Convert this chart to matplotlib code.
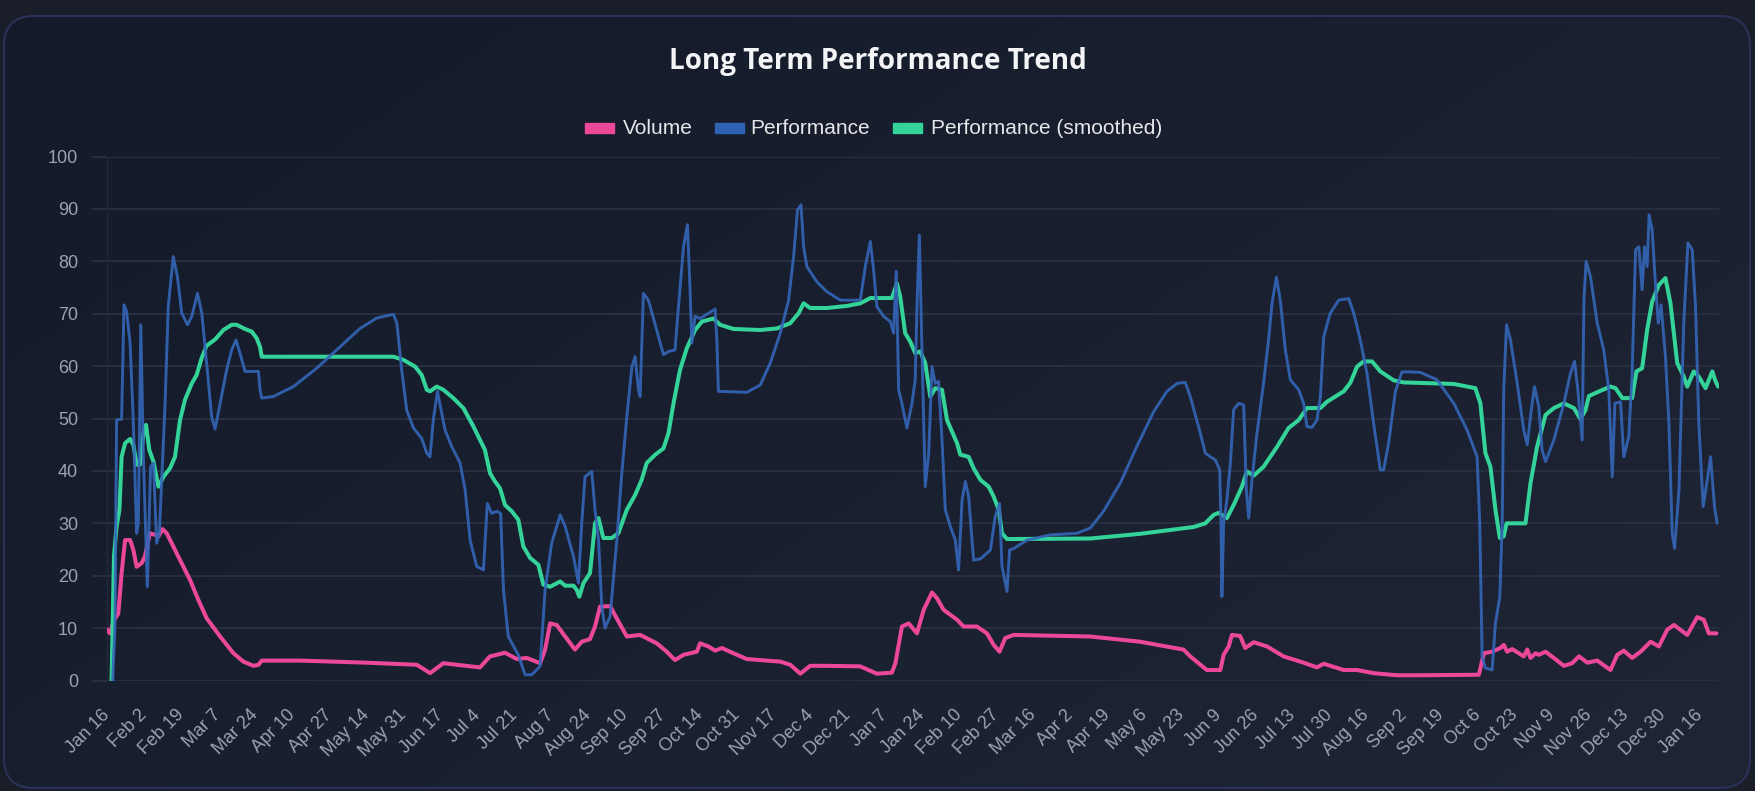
import numpy as np
import pandas as pd
import matplotlib
matplotlib.use('Agg')
import matplotlib.pyplot as plt
from matplotlib.patches import FancyBboxPatch, Rectangle

# dates are stored as day offsets from the first day of the series
start = pd.Timestamp('2024-01-16')

vol_days = [0, 1.4, 2.9, 5.2, 6.7, 8.3, 10.6, 12.1, 13.6, 15.9, 17.4, 19.7, 22.0, 23.6, 25.5, 27.4,
            29.7, 33.5, 38.1, 41.9, 45.7, 51.9, 58.0, 62.6, 67.2, 69.5, 71.0, 88.6, 119.2, 142.1, 146.0,
            148.2, 154.3, 171.1, 175.7, 178.8, 182.6, 188.0, 192.6, 198.7, 201.0, 203.3, 206.3, 210.2,
            214.7, 217.8, 221.6, 223.9, 226.2, 230.8, 234.6, 238.5, 244.6, 252.2, 256.8, 260.6, 264.5,
            267.5, 270.6, 272.1, 275.9, 279.0, 282.1, 287.4, 293.5, 299.7, 308.9, 313.5, 318.1, 322.6,
            330.3, 345.6, 353.2, 360.1, 361.7, 364.7, 367.8, 371.6, 374.7, 378.5, 380.8, 383.8, 390.0,
            393.0, 399.1, 403.7, 406.8, 409.5, 412.1, 416.0, 451.1, 474.0, 493.9, 497.0, 504.6, 510.8,
            512.3, 514.6, 516.1, 519.9, 522.2, 526.1, 532.2, 539.8, 549.0, 555.1, 558.2, 567.4, 573.5,
            581.1, 591.8, 602.6, 629.4, 631.7, 635.5, 639.3, 640.8, 642.4, 644.7, 650.0, 651.6, 653.1,
            655.4, 656.9, 660.0, 663.8, 668.4, 672.2, 675.3, 677.6, 679.1, 683.7, 689.8, 692.9, 695.9,
            699.7, 703.6, 708.2, 712.0, 715.8, 718.9, 725.0, 729.6, 732.6, 734.9, 738.4]
vol_vals = [9.7, 9.0, 11.3, 12.8, 20.5, 26.8, 26.8, 24.9, 21.7, 22.4, 23.7, 28.1, 27.8, 27.5, 28.9, 28.1,
            26.2, 23.0, 19.2, 15.4, 11.9, 8.4, 5.2, 3.6, 2.8, 3.0, 3.8, 3.8, 3.4, 3.0, 2.0,
            1.4, 3.3, 2.5, 4.6, 4.9, 5.3, 4.1, 4.3, 3.3, 5.9, 10.9, 10.6, 8.4,
            5.9, 7.4, 7.9, 10.3, 14.1, 14.2, 11.3, 8.4, 8.7, 7.1, 5.5, 3.9, 4.9,
            5.2, 5.5, 7.1, 6.5, 5.7, 6.2, 5.2, 4.1, 3.9, 3.6, 3.0, 1.3, 2.8,
            2.8, 2.7, 1.3, 1.5, 3.3, 10.3, 10.9, 9.0, 13.5, 16.8, 15.7, 13.5, 11.6,
            10.3, 10.3, 9.0, 6.8, 5.5, 8.1, 8.7, 8.4, 7.4, 5.9, 4.6, 2.0, 2.0,
            4.9, 6.5, 8.7, 8.5, 6.2, 7.3, 6.5, 4.6, 3.4, 2.5, 3.2, 2.0, 2.0,
            1.4, 1.0, 1.0, 1.1, 5.2, 5.5, 6.2, 6.8, 5.5, 6.0, 4.6, 5.9, 4.3,
            5.2, 4.9, 5.5, 4.3, 2.8, 3.3, 4.6, 3.9, 3.4, 3.8, 2.0, 4.9, 5.7,
            4.3, 5.5, 7.4, 6.5, 9.7, 10.6, 8.7, 12.1, 11.6, 9.0, 9.0]

perf_days = [2.6, 3.7, 4.4, 6.7, 7.8, 9.0, 10.6, 12.1, 13.6, 14.4, 15.5, 16.7, 18.5, 20.0, 21.3, 22.8,
             24.0, 26.6, 28.1, 30.4, 32.3, 34.3, 36.9, 38.9, 41.5, 43.5, 45.7, 48.0, 49.6, 51.9, 54.9,
             57.2, 59.2, 61.0, 63.3, 69.5, 70.2, 71.0, 76.3, 85.5, 96.2, 106.9, 116.1, 123.8, 131.4,
             133.0, 135.2, 137.5, 140.6, 144.4, 146.7, 148.2, 149.7, 151.6, 155.1, 158.1, 162.0, 164.3,
             166.6, 169.6, 172.7, 174.5, 176.5, 178.8, 180.6, 181.9, 184.1, 188.7, 191.8, 194.9, 198.7,
             201.0, 204.0, 207.9, 210.2, 214.0, 216.3, 217.8, 219.3, 222.4, 223.9, 225.5, 227.0, 228.5,
             230.8, 233.9, 236.2, 238.5, 240.8, 242.3, 243.8, 244.6, 246.1, 248.4, 252.2, 255.3, 257.6,
             260.6, 262.2, 264.5, 266.3, 267.5, 268.3, 269.8, 272.1, 275.9, 279.0, 279.8, 280.5, 293.5,
             299.7, 304.3, 308.9, 312.7, 315.0, 316.8, 318.4, 319.6, 321.1, 325.7, 330.3, 336.4, 345.6,
             347.9, 350.2, 351.7, 353.2, 356.3, 359.4, 360.9, 362.1, 363.2, 364.7, 367.0, 369.3, 370.8,
             371.6, 372.7, 373.9, 375.4, 377.0, 378.5, 380.0, 381.5, 383.1, 384.6, 386.9, 389.2, 390.7,
             392.3, 393.8, 395.3, 397.6, 400.7, 405.3, 407.5, 409.5, 410.6, 412.9, 414.1, 416.0, 422.1,
             432.8, 445.0, 451.1, 457.2, 464.9, 472.5, 480.2, 486.3, 490.9, 494.7, 497.0, 501.6, 503.9,
             506.2, 508.5, 510.5, 511.1, 511.5, 512.3, 513.8, 515.4, 516.9, 519.2, 521.5, 522.7, 523.8,
             525.3, 527.6, 530.6, 532.9, 534.5, 536.5, 538.3, 540.6, 542.9, 546.7, 549.0, 550.5, 552.8,
             555.1, 556.7, 558.2, 561.2, 565.1, 569.7, 572.0, 575.0, 578.1, 581.1, 584.2, 585.7, 588.0,
             591.1, 594.1, 598.0, 602.6, 610.2, 617.9, 624.0, 628.6, 629.8, 630.9, 632.4, 635.5, 637.0,
             639.0, 640.1, 640.8, 642.1, 643.9, 647.0, 650.0, 651.6, 653.1, 654.9, 656.9, 658.4, 660.0,
             663.8, 668.4, 671.4, 673.3, 674.8, 676.8, 677.6, 678.6, 680.6, 683.7, 686.7, 689.0, 690.6,
             691.8, 694.4, 695.9, 698.2, 699.7, 701.3, 702.8, 704.3, 705.4, 706.6, 707.5, 708.9, 710.4,
             711.7, 713.0, 715.0, 716.6, 718.1, 719.2, 721.2, 723.4, 725.3, 727.3, 728.8, 730.3, 732.3,
             734.2, 735.7, 737.5, 738.7]
perf_vals = [0, 10.9, 49.7, 49.9, 71.7, 70.4, 64.4, 49.1, 28.1, 30.0, 67.9, 42.7, 17.9, 40.8, 41.5, 26.2,
             28.1, 52.3, 71.4, 80.9, 77.1, 70.1, 67.9, 69.5, 73.9, 70.1, 60.6, 50.4, 48.0, 52.9, 59.3,
             63.1, 65.0, 62.5, 59.0, 59.0, 55.5, 53.9, 54.2, 56.1, 59.6, 63.7, 67.2, 69.2, 69.9,
             68.2, 59.3, 51.6, 48.2, 46.2, 43.4, 42.7, 49.7, 55.2, 47.8, 44.7, 41.5, 36.4,
             26.8, 21.8, 21.1, 33.8, 31.9, 32.3, 31.9, 17.3, 8.4, 4.9, 1.1, 1.1, 2.7,
             17.3, 26.2, 31.6, 29.4, 23.7, 18.6, 30.0, 38.9, 39.9, 32.6, 26.8, 14.1, 10.0,
             12.2, 26.8, 39.6, 50.4, 59.9, 61.8, 55.5, 54.2, 73.9, 72.6, 66.9, 62.2, 62.8,
             63.1, 71.4, 82.8, 87.0, 74.6, 64.4, 69.5, 69.1, 70.1, 70.9, 65.0, 55.2, 55.0,
             56.4, 60.6, 66.3, 72.6, 80.9, 89.8, 90.8, 82.8, 79.0, 76.1, 74.2, 72.6, 72.6,
             79.0, 83.8, 78.4, 71.4, 69.5, 68.5, 66.3, 78.1, 55.5, 52.9, 48.2, 52.9, 57.4,
             71.4, 85.0, 63.1, 37.0, 43.4, 59.9, 56.7, 57.1, 45.9, 32.6, 29.4, 26.8, 21.1,
             34.5, 38.0, 35.1, 23.0, 23.2, 24.9, 31.3, 33.8, 21.8, 17.0, 24.9, 25.2, 26.8,
             27.8, 28.1, 29.1, 32.3, 37.7, 44.7, 51.3, 55.2, 56.7, 56.9, 54.2, 47.2, 43.4,
             42.7, 42.1, 40.2, 30.0, 16.0, 30.0, 34.5, 41.5, 51.7, 52.9, 52.6, 36.4, 31.0,
             38.3, 47.2, 56.7, 65.0, 72.0, 77.0, 72.6, 63.1, 57.4, 55.5, 52.9, 48.5, 48.3,
             49.7, 54.2, 65.6, 70.1, 72.6, 72.9, 70.1, 65.0, 58.6, 49.1, 40.2, 40.2, 45.3,
             55.2, 58.9, 58.9, 58.8, 57.4, 52.9, 47.8, 42.7, 30.0, 4.6, 2.4, 2.0, 10.9,
             16.0, 30.0, 55.5, 67.9, 65.0, 56.7, 47.8, 45.0, 50.4, 56.1, 52.3, 44.0, 41.8,
             45.9, 52.9, 58.6, 60.9, 55.5, 45.9, 72.6, 80.0, 77.1, 68.2, 63.1, 55.5, 38.9,
             52.9, 53.2, 42.7, 46.6, 58.6, 82.2, 82.8, 74.6, 82.8, 79.0, 88.9, 86.0, 75.8,
             68.2, 71.7, 61.8, 49.1, 28.1, 25.2, 36.4, 68.2, 83.5, 82.2, 71.4, 49.1, 33.2,
             38.3, 42.7, 33.2, 30.0]

smooth_days = [2.1, 3.2, 4.4, 5.7, 6.7, 8.3, 10.6, 12.1, 13.6, 15.1, 16.7, 17.9, 19.4, 21.3, 23.6, 25.9,
               28.9, 31.2, 33.5, 35.8, 38.9, 41.1, 43.4, 45.7, 49.6, 53.4, 57.2, 59.5, 63.3, 66.4, 68.7,
               70.2, 71.0, 73.3, 131.4, 136.0, 141.4, 144.4, 146.7, 148.2, 151.3, 154.3, 158.9, 163.5,
               168.1, 173.4, 175.7, 178.0, 180.3, 182.6, 185.7, 188.7, 191.0, 194.1, 197.9, 200.2, 203.3,
               207.9, 210.2, 214.0, 215.5, 216.7, 218.6, 221.6, 223.9, 225.5, 227.7, 231.6, 234.6, 238.5,
               242.3, 245.3, 247.6, 251.5, 255.3, 257.6, 259.9, 262.9, 266.0, 269.8, 272.9, 278.2, 281.3,
               287.4, 299.7, 307.3, 313.5, 317.3, 319.6, 322.6, 330.3, 339.5, 345.6, 350.2, 360.1, 362.4,
               363.9, 366.2, 368.5, 370.8, 373.1, 375.4, 377.7, 380.0, 383.1, 385.4, 387.7, 390.0, 391.5,
               395.3, 397.6, 400.7, 404.5, 406.8, 409.1, 410.6, 412.9, 451.1, 474.0, 498.5, 503.9, 507.7,
               510.0, 513.8, 516.9, 520.7, 523.0, 526.1, 530.6, 536.8, 542.1, 546.7, 550.5, 556.7, 559.7,
               567.4, 570.4, 573.5, 576.5, 580.4, 584.2, 590.3, 594.9, 602.6, 617.9, 627.8, 630.1, 632.4,
               634.7, 637.0, 639.0, 640.8, 642.1, 650.8, 653.1, 656.1, 660.0, 663.8, 668.4, 673.0, 676.0,
               678.3, 679.9, 685.2, 689.8, 692.1, 695.2, 699.7, 701.7, 704.3, 706.6, 708.9, 712.0, 715.0,
               717.3, 720.4, 723.4, 725.0, 728.0, 730.3, 733.4, 736.5, 738.0, 739.2]
smooth_vals = [0, 23.7, 29.4, 32.6, 42.7, 45.3, 46.1, 45.0, 41.2, 41.2, 47.2, 48.8, 44.0, 41.8, 37.0, 38.9,
               40.5, 42.7, 49.7, 53.6, 56.7, 58.3, 61.5, 63.9, 65.1, 66.9, 67.9, 67.9, 67.1, 66.6, 65.3,
               63.7, 61.8, 61.8, 61.8, 61.2, 59.9, 58.3, 55.5, 55.2, 56.1, 55.5, 53.9, 52.0,
               48.5, 44.0, 39.6, 38.0, 36.7, 33.5, 32.3, 30.7, 25.6, 23.4, 22.1, 18.3, 17.9,
               18.9, 18.1, 18.1, 17.3, 16.0, 18.6, 20.5, 30.0, 31.0, 27.2, 27.2, 28.1, 32.6,
               35.4, 38.3, 41.5, 43.1, 44.3, 47.2, 52.9, 59.3, 63.4, 66.9, 68.5, 69.1, 67.9,
               67.1, 66.9, 67.2, 68.2, 70.1, 72.0, 71.1, 71.1, 71.5, 72.0, 73.0, 73.0, 75.8,
               73.3, 66.3, 64.7, 62.5, 62.8, 60.6, 54.2, 55.8, 55.5, 49.7, 47.5, 45.3, 43.1,
               42.7, 40.5, 38.3, 37.0, 35.1, 32.6, 28.1, 27.0, 27.1, 28.0, 29.3, 30.0, 31.6,
               32.0, 31.0, 33.5, 37.0, 39.9, 39.1, 40.8, 44.6, 48.2, 49.7, 52.0, 52.0, 53.2,
               55.2, 56.8, 59.9, 60.9, 60.9, 59.0, 57.3, 56.9, 56.8, 56.6, 55.8, 52.9, 43.4,
               40.8, 32.6, 27.2, 27.5, 30.0, 30.0, 37.7, 44.6, 50.7, 52.0, 52.9, 52.0, 49.9,
               51.6, 54.3, 55.3, 56.1, 55.8, 53.9, 53.9, 59.0, 59.6, 66.9, 72.3, 75.5, 76.8,
               72.0, 60.6, 58.0, 56.1, 59.0, 58.0, 55.8, 59.0, 57.1, 56.1]

tick_dates = pd.date_range(start, periods=44, freq='17D')
tick_days = [(d - start).days for d in tick_dates]
tick_labels = [f'{d:%b} {d.day}' for d in tick_dates]

W, H = 1756, 791
fig = plt.figure(figsize=(W / 100, H / 100), dpi=100)
fig.patch.set_facecolor('#1a1e29')

# card background with a soft diagonal gradient
bg = fig.add_axes([0, 0, 1, 1])
bg.set_xlim(0, W)
bg.set_ylim(H, 0)
bg.axis('off')
gy, gx = np.mgrid[0:1:200j, 0:1:400j]
grad = (gx * 0.6 + gy * 0.4)
c0 = np.array([0x13, 0x1a, 0x29]) / 255
c1 = np.array([0x1f, 0x25, 0x35]) / 255
img = c0 + (c1 - c0) * grad[..., None]
card = FancyBboxPatch((4, 16), 1746, 772, boxstyle='round,pad=0,rounding_size=30',
                      facecolor='none', edgecolor='#2b3158', linewidth=1.5, zorder=2)
im = bg.imshow(img, extent=(4, 1750, 788, 16), aspect='auto', zorder=1)
bg.add_patch(card)
im.set_clip_path(card)

fig.text(878 / W, 1 - 62 / H, 'Long Term Performance Trend', ha='center', va='center',
         fontsize=20, fontweight='bold', color='#f3f4f6', family='Open Sans')

# legend drawn by hand to keep the Chart.js look
legend_items = [('Volume', '#ec4899', 585, 623), ('Performance', '#2f62b3', 715, 750),
                ('Performance (smoothed)', '#34d399', 893, 931)]
for name, col, bx, tx in legend_items:
    bg.add_patch(Rectangle((bx, 122.5), 29, 10, facecolor=col, edgecolor=col, zorder=3))
    bg.text(tx, 128, name, ha='left', va='center', fontsize=15, color='#e5e7eb',
            family='Liberation Sans', zorder=3)

ax = fig.add_axes([107 / W, 1 - 680.5 / H, (1719.5 - 107) / W, (680.5 - 156.6) / H])
ax.set_facecolor('none')

ax.plot(vol_days, vol_vals, color='#ec4899', lw=2.9, solid_joinstyle='round', solid_capstyle='round', zorder=3)
ax.plot(smooth_days, smooth_vals, color='#34d399', lw=2.9, solid_joinstyle='round', solid_capstyle='round', zorder=4)
ax.plot(perf_days, perf_vals, color='#3466b8', lw=2.1, alpha=0.9, solid_joinstyle='round',
        solid_capstyle='round', zorder=5)

ax.set_xlim(0, 739.8)
ax.set_ylim(0, 100)
ax.set_yticks(range(0, 101, 10))
ax.set_xticks(tick_days)
ax.set_xticklabels(tick_labels, rotation=45, ha='right', va='center', rotation_mode='anchor',
                   family='Liberation Sans')
for lab in ax.get_yticklabels():
    lab.set_family('Liberation Sans')

ax.yaxis.grid(True, color='#283042', lw=1.3)
ax.set_axisbelow(True)
ax.tick_params(axis='y', length=10.8, width=1.3, color='#283042', pad=10, labelsize=13, labelcolor='#9aa3b2')
ax.tick_params(axis='x', length=0, pad=23, labelsize=13, labelcolor='#9aa3b2')
for s in ['top', 'right', 'bottom']:
    ax.spines[s].set_visible(False)
ax.spines['left'].set_color('#222a3a')
ax.spines['left'].set_linewidth(1)

fig.savefig('out.png', dpi=100, facecolor=fig.get_facecolor())
